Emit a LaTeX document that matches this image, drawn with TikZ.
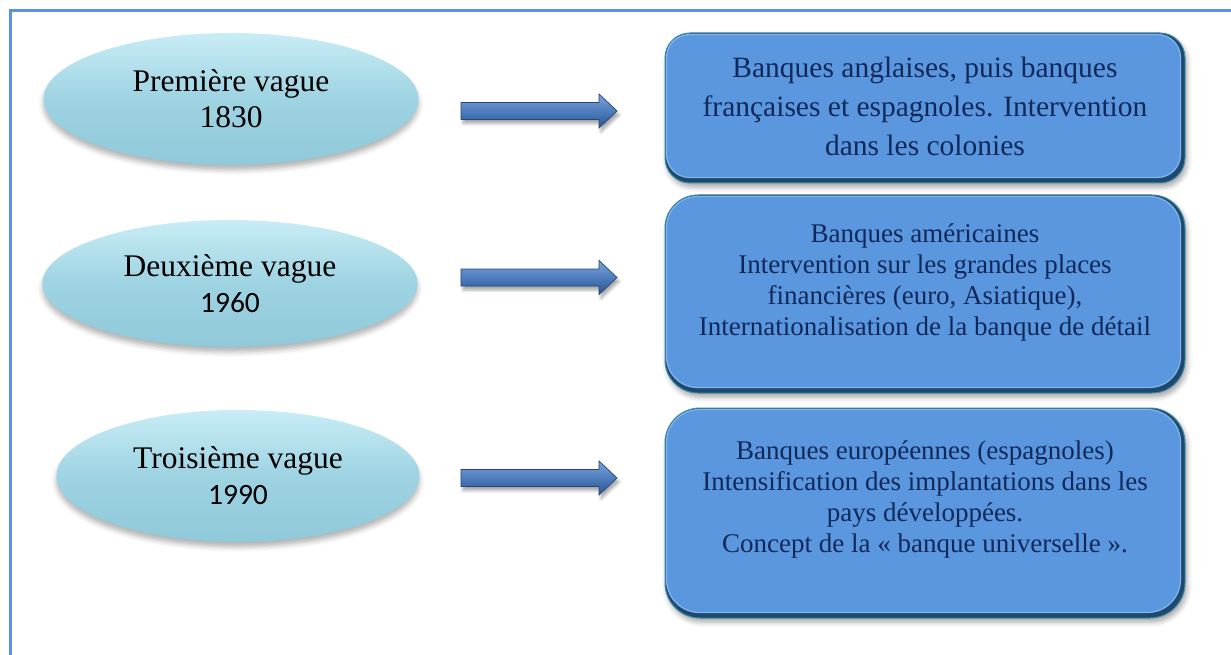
\documentclass[tikz,border=0pt]{standalone}
\usepackage{fontspec}
\setmainfont{Liberation Serif}
\newfontfamily\digitfont{Carlito}
\usetikzlibrary{shapes.geometric,shadows.blur,calc}

\definecolor{framecol}{RGB}{91,146,226}
\definecolor{ovaltop}{RGB}{200,237,246}
\definecolor{ovalmid}{RGB}{158,211,226}
\definecolor{ovalbot}{RGB}{144,201,217}
\definecolor{boxfill}{RGB}{90,151,222}
\definecolor{boxlight}{RGB}{128,182,238}
\definecolor{boxedge}{RGB}{30,72,108}
\definecolor{boxrim}{RGB}{62,140,168}
\definecolor{boxtext}{RGB}{16,40,90}
\definecolor{arrtop}{RGB}{124,162,214}
\definecolor{arrmid}{RGB}{78,126,190}
\definecolor{arrbot}{RGB}{42,82,140}
\definecolor{arredge}{RGB}{38,70,118}

\begin{document}
\begin{tikzpicture}[x=1pt,y=-1pt,
  frame/.style={draw=framecol,line width=3pt},
  wave/.style={ellipse,inner sep=0pt,minimum width=375pt,minimum height=132pt,
    top color=ovaltop,bottom color=ovalbot,middle color=ovalmid,
    blur shadow={shadow xshift=0pt,shadow yshift=-5pt,shadow blur radius=5pt,shadow opacity=30},
    align=center,font=\fontsize{31.5}{36}\selectfont},
  panel/.style={rectangle,inner sep=0pt,minimum width=520pt,
    fill=boxedge,draw=boxrim,line width=1pt,
    blur shadow={shadow xshift=2pt,shadow yshift=-4pt,shadow blur radius=5pt,shadow opacity=35}},
  face/.style={fill=boxfill,draw=boxlight,line width=1.2pt},
  paneltext/.style={align=center,text=boxtext,inner sep=0pt},
  arrowbody/.style={top color=arrtop,bottom color=arrbot,middle color=arrmid,
    draw=arredge,line width=.7pt,line join=miter,
    blur shadow={shadow xshift=2pt,shadow yshift=-4pt,shadow blur radius=3pt,shadow opacity=35}}
]
\useasboundingbox (0,0) rectangle (1231,655);

% outer frame, running past the right and bottom edges
\draw[frame] (10,11) rectangle (1270,700);

% the three waves
\node[wave] (e1) at (231,99) {Première vague\\1830};
\node[wave,minimum height=127pt] (e2) at (230,283.5)
  {Deuxième vague\\{\digitfont\fontsize{29.5}{35}\selectfont 1960}};
\node[wave,minimum width=363pt] (e3) at (238,476)
  {Troisième vague\\{\digitfont\fontsize{29.5}{37}\selectfont 1990}};

% description panels: dark bevel body, then the blue face
\node[panel,rounded corners=25pt,minimum height=150pt] (b1) at (925,108) {};
\fill[face,rounded corners=23pt] ($(b1.north west)+(2,2)$) rectangle ($(b1.south east)+(-5,-6)$);
\node[panel,rounded corners=33pt,minimum height=198pt] (b2) at (925,294) {};
\fill[face,rounded corners=31pt] ($(b2.north west)+(2,2)$) rectangle ($(b2.south east)+(-5,-6)$);
\node[panel,rounded corners=35pt,minimum height=210pt] (b3) at (925,513) {};
\fill[face,rounded corners=33pt] ($(b3.north west)+(2,2)$) rectangle ($(b3.south east)+(-5,-6)$);

\node[paneltext,font=\fontsize{29.5}{39}\selectfont] (t1) at (925,106)
  {Banques anglaises, puis banques\\françaises et espagnoles. Intervention\\dans les colonies};
\node[paneltext,font=\fontsize{27}{30.7}\selectfont] (t2) at (925,282.5)
  {Banques américaines\\Intervention sur les grandes places\\financières (euro, Asiatique),\\Internationalisation de la banque de détail};
\node[paneltext,font=\fontsize{27}{30.7}\selectfont] (t3) at (925,499.5)
  {Banques européennes (espagnoles)\\Intensification des implantations dans les\\pays développées.\\Concept de la « banque universelle ».};

% block arrows from each wave to its panel
\coordinate (a1) at (461,111);
\coordinate (a2) at (461,277.5);
\coordinate (a3) at (461,478);
\foreach \a in {a1,a2,a3}{
  \shade[arrowbody] (\a) ++(0,-8.5) -- ++(138,0) -- ++(0,-8.5) -- ++(18,17)
    -- ++(-18,17) -- ++(0,-8.5) -- ++(-138,0) -- cycle;
}
\end{tikzpicture}
\end{document}
